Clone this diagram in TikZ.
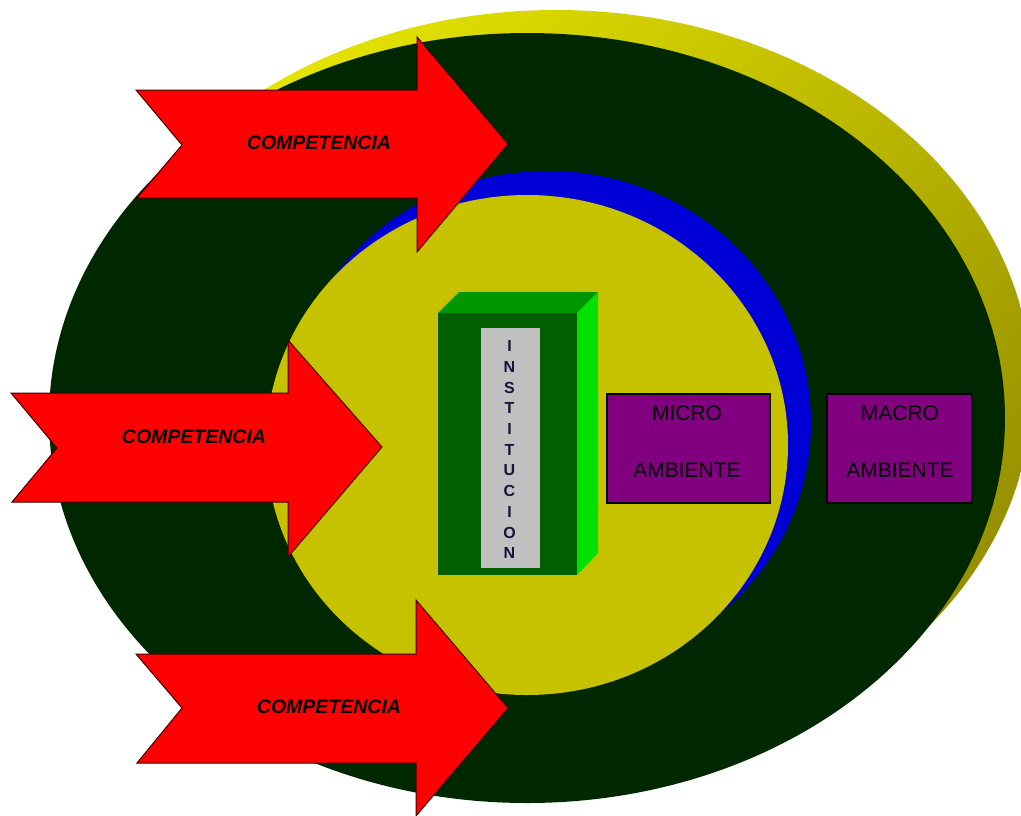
\documentclass[tikz,border=0pt]{standalone}
\usepackage{fontspec}
\setmainfont{Liberation Sans}
\definecolor{outerhi}{RGB}{230,228,0}
\definecolor{outerlo}{RGB}{150,144,0}
\definecolor{darkring}{RGB}{0,40,0}
\definecolor{bluering}{RGB}{0,0,214}
\definecolor{innerfill}{RGB}{198,194,0}
\definecolor{boxfront}{RGB}{0,96,0}
\definecolor{boxtop}{RGB}{0,150,0}
\definecolor{boxside}{RGB}{0,225,0}
\definecolor{labelgray}{RGB}{192,192,192}
\definecolor{ambpurple}{RGB}{128,0,128}
\definecolor{arrowred}{RGB}{255,0,0}
\definecolor{letterink}{RGB}{20,20,60}
\begin{document}
\begin{tikzpicture}[x=1pt,y=-1pt,
  comparrow/.style={fill=arrowred, draw=black!75!red, line width=1pt, line join=miter},
  comptext/.style={font=\fontsize{19.5}{22}\selectfont\bfseries\itshape, text=black, inner sep=0pt},
  ambbox/.style={rectangle, fill=ambpurple, draw=black, line width=1.3pt, inner sep=0pt},
  ambtext/.style={font=\fontsize{21}{57}\selectfont, text=black, align=center, inner sep=0pt},
  letter/.style={font=\fontsize{16}{16}\selectfont\bfseries, text=letterink, inner sep=0pt, anchor=base}]
\useasboundingbox (0,0) rectangle (1021,815);

% outer ring: shaded rim behind the dark green environment
\shade[top color=outerhi, bottom color=outerlo, shading angle=45]
  (556,390) ellipse [x radius=476, y radius=380];
\fill[darkring] (527,418) ellipse [x radius=478, y radius=385];

% inner ring: blue rim behind the inner field
\fill[bluering] (548,423) ellipse [x radius=263, y radius=252];
\fill[innerfill] (527,445) ellipse [x radius=261, y radius=250];

% the institution block
\fill[boxfront] (438,313) rectangle (577,575);
\fill[boxtop] (438,313) -- (459,292) -- (598,292) -- (577,313) -- cycle;
\fill[boxside] (577,313) -- (598,292) -- (598,553) -- (577,575) -- cycle;
\fill[labelgray] (481,328) rectangle (540,568);
\foreach \l [count=\i from 0] in {I,N,S,T,I,T,U,C,I,O,N}
  \node[letter] (l\i) at (509.5, 351.7+20.7*\i) {\l};

% environment boxes
\node[ambbox, minimum width=163pt, minimum height=109pt] (micro) at (688.5,448.5) {};
\node[ambtext] (microtxt) at (687,441.5) {MICRO\\AMBIENTE};
\node[ambbox, minimum width=145pt, minimum height=109pt] (macro) at (899.5,448.5) {};
\node[ambtext] (macrotxt) at (900,441.5) {MACRO\\AMBIENTE};

% competition arrows
\draw[comparrow] (136,90) -- (417,90) -- (417,37) -- (508,144) -- (417,252)
  -- (417,198) -- (137,198) -- (182,145) -- cycle;
\draw[comparrow] (11,393) -- (288,393) -- (288,340) -- (382,447) -- (288,557)
  -- (288,502) -- (12,502) -- (57,448) -- cycle;
\draw[comparrow] (136,654) -- (416,654) -- (416,600) -- (508,708) -- (416,816)
  -- (416,763) -- (137,763) -- (182,708) -- cycle;
\node[comptext] (comp1) at (319,143) {COMPETENCIA};
\node[comptext] (comp2) at (194,437) {COMPETENCIA};
\node[comptext] (comp3) at (329,707) {COMPETENCIA};
\end{tikzpicture}
\end{document}
